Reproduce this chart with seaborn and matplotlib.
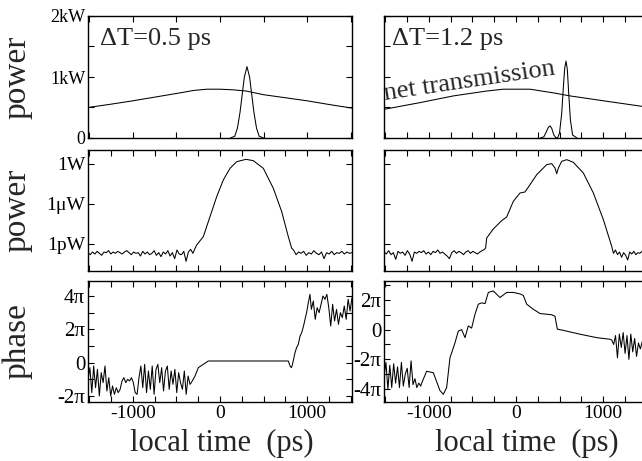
import numpy as np
import pandas as pd
import matplotlib
matplotlib.use('Agg')
import matplotlib.pyplot as plt
import seaborn as sns
from matplotlib.ticker import MultipleLocator, FixedLocator, NullLocator

# limites do eixo do tempo (ps)
t_min, t_max = -1517, 1517

# ---------- linha de cima: potência (kW) ----------
# transmissão líquida, ΔT = 0.5 ps
trans_t_a = [-1517, -1250, -1000, -750, -500, -300, -150, 0, 150, 300, 500, 750, 1000, 1250, 1517]
trans_p_a = [0.50, 0.555, 0.61, 0.67, 0.73, 0.78, 0.80, 0.80, 0.79, 0.77, 0.71, 0.66, 0.61, 0.55, 0.49]
# impulso, ΔT = 0.5 ps
pulse_t_a = [120, 170, 200, 230, 255, 280, 310, 340, 365, 390, 420, 450, 500]
pulse_p_a = [0.0, 0.03, 0.16, 0.42, 0.71, 1.0, 1.17, 1.0, 0.71, 0.42, 0.16, 0.03, 0.0]

# transmissão líquida, ΔT = 1.2 ps
trans_t_b = [-1517, -1103, -720, -337, -146, 0, 161, 429, 621, 1004, 1444, 1517]
trans_p_b = [0.47, 0.58, 0.69, 0.77, 0.80, 0.80, 0.80, 0.74, 0.69, 0.61, 0.52, 0.51]
# impulso (com pré-impulso), ΔT = 1.2 ps
pulse_t_b = [280, 320, 345, 370, 390, 410, 435, 460, 480, 500, 525, 545, 560, 575, 590, 605, 625, 650, 700]
pulse_p_b = [0.0, 0.02, 0.09, 0.17, 0.20, 0.16, 0.05, 0.0, 0.01, 0.08, 0.40, 0.85, 1.15, 1.26, 1.12, 0.75, 0.30, 0.05, 0.0]

# ---------- linha do meio: potência em escala log (log10 W) ----------
noise_pre_a = [-13.3, -13.6, -13.2, -13.5, -13.1, -13.4, -13.7, -13.2, -13.3, -13.0,
               -13.5, -13.2, -13.4, -13.1, -13.3, -13.5, -13.2, -13.0, -13.3, -13.6,
               -13.2, -13.4, -13.3, -13.8, -13.1, -13.5, -13.2, -13.6, -13.4, -13.0,
               -13.7, -13.3, -13.9, -13.2, -13.5, -13.0, -13.8, -13.3, -14.2, -12.9,
               -13.5, -13.6, -13.1, -14.6, -13.2, -12.8, -13.4, -12.6]
rise_t_a = [-268, -192, -115, -38, 38, 115, 192, 299, 383, 498, 613, 709, 785, 824]
rise_l_a = [-12.15, -10.9, -7.9, -4.9, -2.4, -0.65, 0.35, 0.7, 0.5, -0.65, -3.65, -7.15, -10.9, -12.65]
noise_post_a = [-12.9, -13.6, -13.2, -13.4, -13.1, -13.7, -13.3, -13.5, -13.0, -13.4,
                -13.6, -13.2, -14.2, -13.3, -13.5, -13.1, -13.6, -13.3, -13.4, -13.1,
                -13.5, -13.2, -13.4, -13.3]

noise_pre_b = [-13.2, -13.5, -13.0, -13.6, -13.3, -14.3, -13.1, -13.4, -13.2, -13.7,
               -13.0, -13.5, -14.6, -13.2, -13.4, -13.1, -13.3, -13.0, -13.5, -13.2,
               -13.6, -13.1, -13.3, -12.9, -13.4, -13.2, -13.5, -13.8, -14.2, -13.3,
               -13.0, -13.4, -13.1, -13.3, -13.6, -13.2, -13.0, -13.4, -13.1, -13.3,
               -13.5, -13.2, -13.0, -12.8]
rise_t_b = [-349, -337, -261, -165, -107, -31, 46, 103, 161, 238, 295, 353, 410, 448, 468,
            487, 525, 583, 659, 774, 889, 1004, 1100]
rise_l_b = [-12.6, -11.1, -9.75, -8.5, -7.95, -5.6, -4.35, -4.2, -3.1, -1.6, -0.85, -0.1, 0.05,
            -0.6, -1.45, -0.6, 0.4, 0.65, 0.25, -1.35, -4.35, -8.35, -12.35]
noise_post_b = [-13.4, -12.9, -13.6, -13.2, -14.0, -13.3, -13.7, -14.4, -13.2, -13.5,
                -13.1, -13.6, -13.3, -13.4, -13.1, -13.5, -13.2, -13.3]

# ---------- linha de baixo: fase (em unidades de π) ----------
ph_noise_pre_a = [-1.0, -0.3, -1.8, -0.2, -1.5, -0.4, -2.0, -0.6, -1.2, -0.2,
                  -1.7, -0.9, -2.0, -1.4, -1.9, -1.5, -1.8, -1.6, -1.1, -0.9,
                  -1.2, -1.0, -1.1, -0.9, -1.2, -1.8, -1.9, -0.9, -0.2, -1.5,
                  -0.1, -1.8, -0.5, -1.6, -0.2, -1.9, -0.4, -0.1, -1.2, -0.3,
                  -1.7, -0.5, -0.2, -1.6, -0.5, -1.3, -0.4, -1.8, -0.6, -1.2,
                  -1.6, -0.5, -1.9, -0.8, -1.3]
ph_mid_t_a = [-330, -287, -249, -192, -134, 785, 805, 820, 831, 862, 880, 900, 920, 939, 960, 977, 995, 1015, 1034]
ph_mid_v_a = [-1.2, -0.8, -0.3, -0.1, 0.1, 0.1, -0.2, -0.3, -0.15, 0.6, 0.9, 1.1, 1.6, 1.8, 2.2, 2.6, 3.0, 3.6, 4.1]
ph_noise_post_a = [3.2, 3.7, 2.6, 3.3, 3.0, 3.5, 4.0, 3.8, 4.1, 3.3,
                   2.2, 3.5, 2.5, 3.2, 2.3, 3.0, 2.7, 3.4, 2.6, 3.8, 3.1, 3.9]

ph_noise_pre_b = [-3.2, -2.2, -4.0, -2.4, -3.9, -2.3, -3.6, -2.5, -3.9, -2.2,
                  -3.8, -3.0, -2.6, -3.9, -2.1, -3.7, -3.3, -3.9, -3.6, -3.8]
ph_mid_t_b = [-1084, -1027, -950, -912, -874, -835, -797, -759, -701, -663, -625, -586, -548,
              -510, -471, -433, -395, -356, -318, -261, -184, -107, -31, 46, 84, 123, 199,
              276, 410, 448, 475, 544, 736, 927, 1080]
ph_mid_v_b = [-3.6, -2.8, -2.9, -3.5, -4.1, -4.35, -3.9, -1.9, -0.88, -0.1, 0.0, -0.54, 0.25,
              0.1, 1.04, 1.71, 1.8, 1.75, 2.5, 2.6, 2.16, 2.5, 2.5, 2.4, 2.3, 1.71, 1.37,
              1.08, 1.0, 0.9, 0.03, -0.05, -0.31, -0.54, -0.65]
ph_noise_post_b = [-0.7, -1.0, -0.4, -1.9, -0.3, -1.2, -0.2, -1.6, -0.4, -2.0,
                   -0.3, -1.5, -0.6, -1.8, -0.9, -1.3, -0.8, -1.1, -0.5, -1.0]

# textos
labels_dt = ['ΔT=0.5 ps', 'ΔT=1.2 ps']
power_ticks = [0, 1, 2]
power_ticklabels = ['0', '1kW', '2kW']
log_ticks = [1e-12, 1e-6, 1]
log_ticklabels = ['1pW', '1μW', '1W']
phase_ticks_a = [-2, 0, 2, 4]
phase_ticklabels_a = ['-2π', '0', '2π', '4π']
phase_ticks_b = [-4, -2, 0, 2]
phase_ticklabels_b = ['-4π', '-2π', '0', '2π']
time_ticks = [-1000, 0, 1000]
time_ticklabels = ['-1000', '0', '1000']


def series(pre, pre_start, pre_end, mid_t, mid_v, post, post_start, post_end):
    t = np.concatenate([np.linspace(pre_start, pre_end, len(pre)), mid_t,
                        np.linspace(post_start, post_end, len(post))])
    v = np.concatenate([pre, mid_v, post])
    return pd.DataFrame({'t': t, 'v': v})


mid_a = series(noise_pre_a, t_min, -285, rise_t_a, rise_l_a, noise_post_a, 845, t_max)
mid_b = series(noise_pre_b, t_min, -362, rise_t_b, rise_l_b, noise_post_b, 1120, t_max)
mid_a['v'] = 10.0 ** mid_a['v']
mid_b['v'] = 10.0 ** mid_b['v']
ph_a = series(ph_noise_pre_a, t_min, -345, ph_mid_t_a, ph_mid_v_a, ph_noise_post_a, 1050, t_max)
ph_b = series(ph_noise_pre_b, t_min, -1095, ph_mid_t_b, ph_mid_v_b, ph_noise_post_b, 1100, t_max)

# estilo
sns.set_style('ticks')
plt.rcParams['font.family'] = ['Liberation Serif', 'DejaVu Serif']
plt.rcParams['axes.linewidth'] = 1.0

fig = plt.figure(figsize=(6.42, 4.61), dpi=100)
W, H = 642.0, 461.0
col_x = [88, 384]
col_w = 264
rows = [(16, 138), (150, 271), (281, 402)]


def make_ax(col, row):
    x0 = col_x[col]
    y0, y1 = rows[row]
    return fig.add_axes([x0 / W, 1 - y1 / H, col_w / W, (y1 - y0) / H])


axes = [[make_ax(c, r) for c in range(2)] for r in range(3)]
line_kw = dict(color='black', lw=0.75, estimator=None, sort=False)

for c in range(2):
    ax_top, ax_mid, ax_bot = axes[0][c], axes[1][c], axes[2][c]
    tt, tp = (trans_t_a, trans_p_a) if c == 0 else (trans_t_b, trans_p_b)
    pt, pp = (pulse_t_a, pulse_p_a) if c == 0 else (pulse_t_b, pulse_p_b)
    sns.lineplot(x=tt, y=tp, ax=ax_top, **line_kw)
    sns.lineplot(x=pt, y=pp, ax=ax_top, **line_kw)
    mid = mid_a if c == 0 else mid_b
    sns.lineplot(data=mid, x='t', y='v', ax=ax_mid, **line_kw)
    ph = ph_a if c == 0 else ph_b
    sns.lineplot(data=ph, x='t', y='v', ax=ax_bot, **line_kw)

    ax_top.set_ylim(0, 2)
    ax_top.yaxis.set_major_locator(MultipleLocator(0.5))
    ax_mid.set_yscale('log')
    ax_mid.set_ylim(10 ** -16.05, 10 ** 2.1)
    ax_mid.yaxis.set_major_locator(FixedLocator(log_ticks))
    ax_mid.yaxis.set_minor_locator(NullLocator())
    ax_bot.yaxis.set_major_locator(MultipleLocator(1))
    if c == 0:
        ax_bot.set_ylim(-2.36, 4.9)
    else:
        ax_bot.set_ylim(-4.87, 3.27)

    for r, ax in enumerate((ax_top, ax_mid, ax_bot)):
        ax.set_xlim(t_min, t_max)
        step = 500 if (r == 0 and c == 0) else 250
        ax.xaxis.set_major_locator(MultipleLocator(step))
        ax.tick_params(which='both', direction='in', top=True, right=True,
                       length=4, width=0.8, colors='black', labelsize=13, pad=2)
        ax.set_xlabel('')
        ax.set_ylabel('')
        ax.set_xticklabels([])
        ax.set_yticklabels([])
        for s in ax.spines.values():
            s.set_color('black')

    # rótulos do eixo x (linha de baixo)
    ax_bot.xaxis.set_major_locator(FixedLocator(time_ticks))
    ax_bot.xaxis.set_minor_locator(MultipleLocator(250))
    ax_bot.tick_params(which='minor', direction='in', top=True, length=4, width=0.8)
    ax_bot.set_xticklabels(time_ticklabels, fontsize=14)
    ax_bot.set_xlabel('local time  (ps)', fontsize=22)
    ax_bot.xaxis.set_label_coords(0.508 if c == 0 else 0.54, -0.22)

    ax_top.text(0.045 if c == 0 else 0.03, 0.76, labels_dt[c], transform=ax_top.transAxes,
                fontsize=19, ha='left', va='baseline')

# eixo y, coluna da esquerda
ax = axes[0][0]
ax.yaxis.set_major_locator(FixedLocator(power_ticks))
ax.yaxis.set_minor_locator(MultipleLocator(0.5))
ax.tick_params(which='minor', direction='in', right=True, length=4, width=0.8)
ax.set_yticklabels(power_ticklabels, fontsize=13)
axes[1][0].set_yticklabels(log_ticklabels, fontsize=14)
ax = axes[2][0]
ax.yaxis.set_major_locator(FixedLocator(phase_ticks_a))
ax.yaxis.set_minor_locator(MultipleLocator(1))
ax.tick_params(which='minor', direction='in', right=True, length=4, width=0.8)
ax.set_yticklabels(phase_ticklabels_a, fontsize=15)
ax = axes[2][1]
ax.yaxis.set_major_locator(FixedLocator(phase_ticks_b))
ax.yaxis.set_minor_locator(MultipleLocator(1))
ax.tick_params(which='minor', direction='in', right=True, length=4, width=0.8)
ax.set_yticklabels(phase_ticklabels_b, fontsize=15)

for r, name in enumerate(['power', 'power', 'phase']):
    axes[r][0].set_ylabel(name, fontsize=24)
    axes[r][0].yaxis.set_label_coords(-0.21, 0.5)

axes[0][1].text(0.005, 0.31, 'net transmission', transform=axes[0][1].transAxes,
                fontsize=19, rotation=8.5, rotation_mode='anchor', ha='left', va='baseline')

fig.savefig('out.png', dpi=100)
